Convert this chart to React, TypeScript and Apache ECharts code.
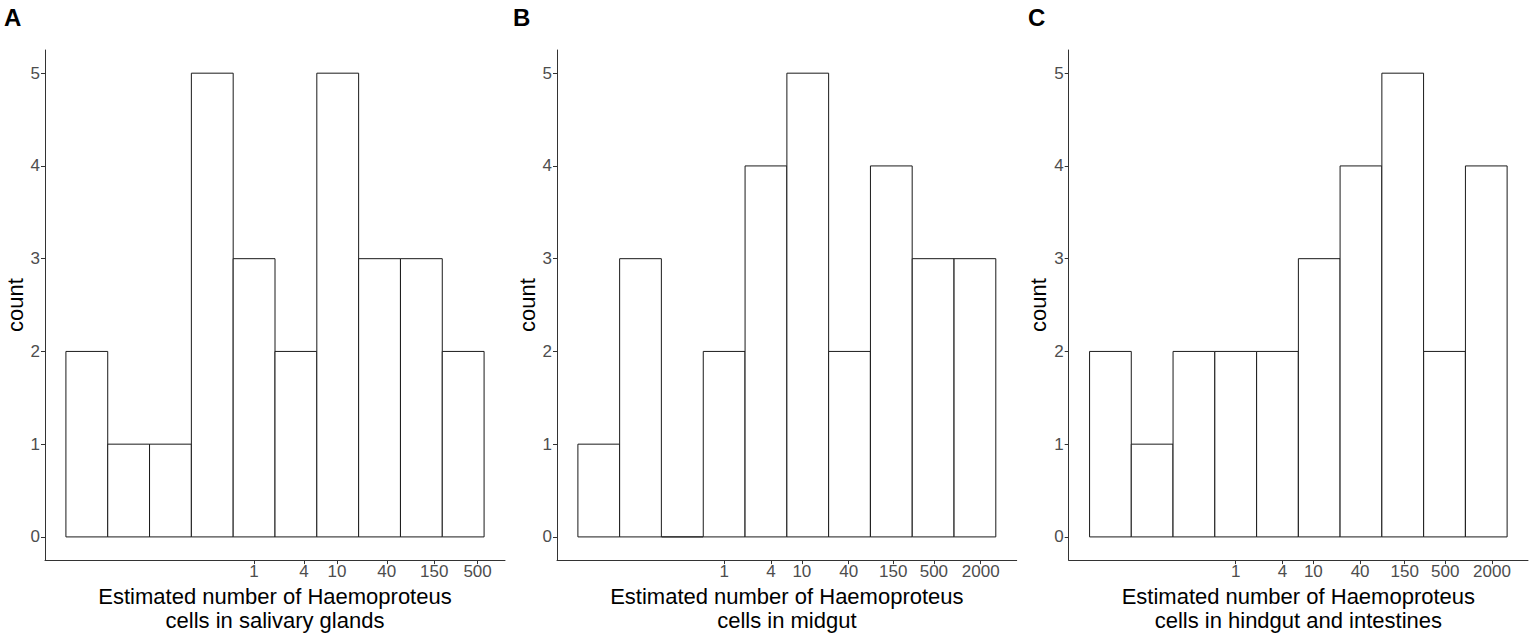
import React, { useEffect, useRef } from "react";
import * as echarts from "echarts";

// Histogram bins on a log10 scale (bin centres in log10 units) and counts
const binCentersA = [-2.02, -1.515, -1.01, -0.505, 0, 0.505, 1.01, 1.515, 2.02, 2.525];
const countsA = [2, 1, 1, 5, 3, 2, 5, 3, 3, 2];
const binCentersB = [-1.613, -1.076, -0.538, 0, 0.538, 1.076, 1.613, 2.151, 2.689, 3.227];
const countsB = [1, 3, 0, 2, 4, 5, 2, 4, 3, 3];
const binCentersC = [-1.613, -1.076, -0.538, 0, 0.538, 1.076, 1.613, 2.151, 2.689, 3.227];
const countsC = [2, 1, 2, 2, 2, 3, 4, 5, 2, 4];

const tickLabelsA = [1, 4, 10, 40, 150, 500];
const tickLabelsBC = [1, 4, 10, 40, 150, 500, 2000];
const yTicks = [0, 1, 2, 3, 4, 5];
const panelLetters = ["A", "B", "C"];
const xTitles = [
  "Estimated number of Haemoproteus\ncells in salivary glands",
  "Estimated number of Haemoproteus\ncells in midgut",
  "Estimated number of Haemoproteus\ncells in hindgut and intestines",
];
const yTitle = "count";

const FONT = "'Liberation Sans', Arial, Helvetica, sans-serif";

const panels = [
  { centers: binCentersA, counts: countsA, ticks: tickLabelsA },
  { centers: binCentersB, counts: countsB, ticks: tickLabelsBC },
  { centers: binCentersC, counts: countsC, ticks: tickLabelsBC },
];

const gridLayout = [
  { left: 45, width: 460 },
  { left: 557, width: 459.7 },
  { left: 1068.7, width: 459.3 },
];
const letterX = [4, 513, 1028];

export default function App() {
  const ref = useRef<HTMLDivElement | null>(null);

  useEffect(() => {
    document.body.style.margin = "0";
    if (!ref.current) return;
    const chart = echarts.init(ref.current, undefined, { renderer: "svg" });

    const grids: any[] = [];
    const xAxes: any[] = [];
    const yAxes: any[] = [];
    const series: any[] = [];

    panels.forEach((p, i) => {
      const w = p.centers[1] - p.centers[0];
      const lo = p.centers[0] - w / 2;
      const hi = p.centers[p.centers.length - 1] + w / 2;
      const pad = (hi - lo) * 0.05;
      const ymax = Math.max(...p.counts);
      grids.push({
        left: gridLayout[i].left,
        width: gridLayout[i].width,
        top: 50,
        bottom: 74.7,
        containLabel: false,
      });
      xAxes.push({
        type: "value",
        gridIndex: i,
        min: lo - pad,
        max: hi + pad,
        name: xTitles[i],
        nameLocation: "middle",
        nameGap: 21,
        nameTextStyle: { fontSize: 22, color: "#000", fontFamily: FONT, lineHeight: 23.5 },
        axisLine: { show: true, onZero: false, lineStyle: { color: "#333", width: 1 } },
        axisTick: {
          show: true,
          length: 4,
          lineStyle: { color: "#333", width: 1 },
          customValues: p.ticks.map((t) => Math.log10(t)),
        },
        axisLabel: {
          show: true,
          margin: 3,
          fontSize: 17,
          color: "#4d4d4d",
          fontFamily: FONT,
          customValues: p.ticks.map((t) => Math.log10(t)),
          formatter: (v: number) => String(Math.round(Math.pow(10, v))),
        },
        splitLine: { show: false },
      });
      yAxes.push({
        type: "value",
        gridIndex: i,
        min: -ymax * 0.05,
        max: ymax * 1.05,
        name: yTitle,
        nameLocation: "middle",
        nameRotate: 90,
        nameGap: 19,
        nameTextStyle: { fontSize: 22, color: "#000", fontFamily: FONT },
        axisLine: { show: true, onZero: false, lineStyle: { color: "#333", width: 1 } },
        axisTick: {
          show: true,
          length: 4,
          lineStyle: { color: "#333", width: 1 },
          customValues: yTicks,
        },
        axisLabel: {
          show: true,
          margin: 5,
          fontSize: 17,
          color: "#4d4d4d",
          fontFamily: FONT,
          customValues: yTicks,
        },
        splitLine: { show: false },
      });
      series.push({
        type: "custom",
        xAxisIndex: i,
        yAxisIndex: i,
        data: p.centers.map((c, k) => [c, p.counts[k]]),
        renderItem: (params: any, api: any) => {
          const c = api.value(0);
          const n = api.value(1);
          const a = api.coord([c - w / 2, n]);
          const b = api.coord([c + w / 2, 0]);
          return {
            type: "rect",
            shape: { x: a[0], y: a[1], width: b[0] - a[0], height: b[1] - a[1] },
            style: { fill: "#ffffff", stroke: "#1a1a1a", lineWidth: 1 },
          };
        },
      });
    });

    chart.setOption({
      animation: false,
      backgroundColor: "#ffffff",
      grid: grids,
      xAxis: xAxes,
      yAxis: yAxes,
      series,
      graphic: panelLetters.map((t, i) => ({
        type: "text",
        left: letterX[i],
        top: 5,
        style: {
          text: t,
          fontSize: 24,
          fontWeight: "bold",
          fill: "#000",
          fontFamily: FONT,
        },
      })),
    });

    return () => chart.dispose();
  }, []);

  return <div ref={ref} style={{ width: 1532, height: 637 }} />;
}
